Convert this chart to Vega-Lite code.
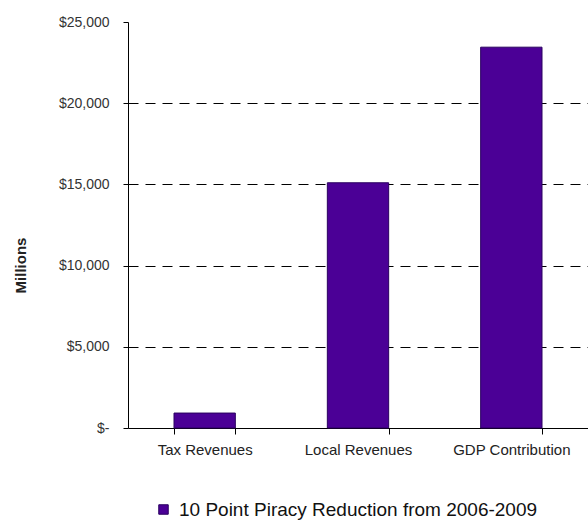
{
  "$schema": "https://vega.github.io/schema/vega-lite/v6.json",
  "autosize": "none",
  "padding": {"left": 128, "top": 22, "right": 0, "bottom": 95},
  "width": 460,
  "height": 406,
  "background": "white",
  "data": {"values": [
    {"category": "Tax Revenues", "value": 920, "series": "10 Point Piracy Reduction from 2006-2009"},
    {"category": "Local Revenues", "value": 15100, "series": "10 Point Piracy Reduction from 2006-2009"},
    {"category": "GDP Contribution", "value": 23450, "series": "10 Point Piracy Reduction from 2006-2009"}
  ]},
  "config": {
    "view": {"stroke": null},
    "font": "Liberation Sans"
  },
  "mark": {"type": "bar", "stroke": "#2a0060", "strokeWidth": 1},
  "encoding": {
    "x": {
      "field": "category", "type": "nominal", "sort": null,
      "scale": {"paddingInner": 0.6, "paddingOuter": 0.3},
      "axis": {
        "title": null, "labelAngle": 0, "labelFontSize": 15, "labelColor": "#222",
        "domainColor": "black", "tickColor": "black", "tickSize": 6, "tickBand": "extent",
        "labelPadding": 8, "grid": false
      }
    },
    "y": {
      "field": "value", "type": "quantitative",
      "scale": {"domain": [0, 25000], "nice": false},
      "axis": {
        "title": "Millions", "titleFontSize": 15, "titleFontWeight": "bold", "titleColor": "#222",
        "titleX": -108, "titleY": 243, "titleAngle": -90, "titleAlign": "center", "titleBaseline": "middle",
        "values": [0, 5000, 10000, 15000, 20000, 25000],
        "labelExpr": "datum.value == 0 ? '$-' : '$' + format(datum.value, ',')",
        "labelFontSize": 14, "labelColor": "#333", "labelPadding": 14,
        "domainColor": "black", "tickColor": "black", "tickSize": 5,
        "grid": true, "gridColor": "black", "gridDash": [10, 7], "gridWidth": 1,
        "gridOpacity": {"condition": {"test": "datum.value == 25000 || datum.value == 0", "value": 0}, "value": 1}
      }
    },
    "color": {
      "field": "series", "type": "nominal",
      "scale": {"range": ["#4b0096"]},
      "legend": {
        "title": null, "orient": "none", "legendX": 26, "legendY": 478,
        "symbolType": "square", "symbolSize": 90, "symbolStrokeColor": "#2a0060", "symbolStrokeWidth": 1,
        "labelFontSize": 19, "labelColor": "#111", "labelLimit": 500, "labelOffset": 6
      }
    }
  }
}
